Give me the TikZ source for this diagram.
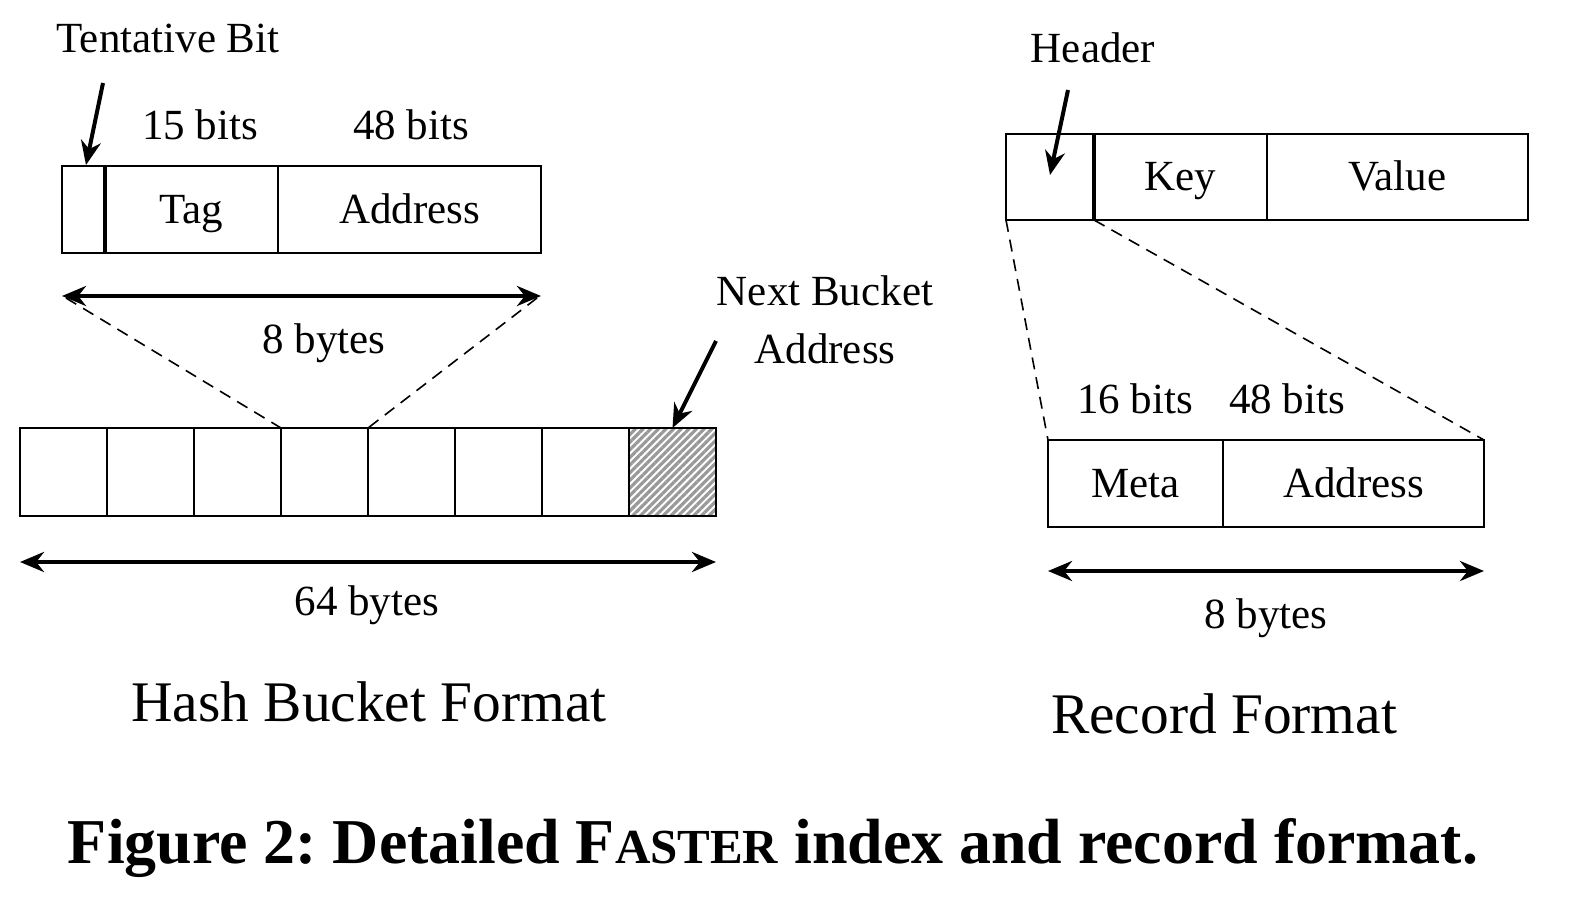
\documentclass[tikz,border=0pt]{standalone}
\usepackage{fontspec}
\setmainfont{Liberation Serif}
\usetikzlibrary{arrows.meta,patterns.meta}
\frenchspacing
\begin{document}
\begin{tikzpicture}[x=0.5pt,y=-0.5pt,
  cell/.style={draw,line width=1pt,rectangle,inner sep=0pt,outer sep=0pt,anchor=north west,text height=16.5pt,text depth=3pt,font=\fontsize{21.5}{24}\selectfont},
  lbl/.style={inner sep=0pt,font=\fontsize{21.5}{24}\selectfont},
  ttl/.style={inner sep=0pt,font=\fontsize{28.7}{32}\selectfont},
  dim/.style={{Stealth[length=12pt,width=10pt]}-{Stealth[length=12pt,width=10pt]},line width=2pt},
  ptr/.style={-{Stealth[length=12pt,width=10pt]},line width=2pt},
  zoom/.style={dashed,line width=0.8pt,dash pattern=on 6pt off 4pt},
  divider/.style={line width=1.8pt},
  hatch/.style={pattern={Lines[angle=45,distance=2.7pt,line width=1.6pt]},pattern color=gray!80}
]
\useasboundingbox (0,0) rectangle (1578,904);

% ---------- Hash bucket entry ----------
\node[cell,minimum width=21.5pt,minimum height=43.5pt] (tb) at (62,166) {};
\node[cell,minimum width=86.5pt,minimum height=43.5pt] (tag) at (105,166) {Tag};
\node[cell,minimum width=131.5pt,minimum height=43.5pt] (addr) at (278,166) {Address};
\draw[divider] (tb.north east) -- (tb.south east);

\node[lbl] (tbl) at (168,38) {Tentative Bit};
\node[lbl] (b15) at (200,125) {15 bits};
\node[lbl] (b48) at (411,125) {48 bits};
\coordinate (tbs) at (103,83);
\coordinate (tbe) at (86,165);
\draw[ptr] (tbs) -- (tbe);

\coordinate (e8l) at (62,296);
\coordinate (e8r) at (541,296);
\draw[dim] (e8l) -- (e8r);
\node[lbl] (by8) at (324,343) {8 bytes};

% ---------- Bucket ----------
\foreach \i in {1,...,7}{
  \node[cell,minimum width=43.5pt,minimum height=44pt] (c\i) at ({20+87*(\i-1)},428) {};
}
\node[cell,minimum width=43.5pt,minimum height=44pt,hatch] (c8) at (629,428) {};

\coordinate (dl) at (66,298);
\coordinate (dr) at (537,298);
\draw[zoom] (dl) -- (c4.north west);
\draw[zoom] (dr) -- (c4.north east);

\node[lbl] (nb1) at (825,291) {Next Bucket};
\node[lbl] (nb2) at (825,349) {Address};
\coordinate (nbs) at (716,341);
\draw[ptr] (nbs) -- (c8.north);

\coordinate (b64l) at (20,562);
\coordinate (b64r) at (716,562);
\draw[dim] (b64l) -- (b64r);
\node[lbl] (by64) at (367,605) {64 bytes};

\node[ttl] (hbf) at (369,702) {Hash Bucket Format};

% ---------- Record ----------
\node[cell,minimum width=44pt,minimum height=43pt] (hdr) at (1006,134) {};
\node[cell,minimum width=86.5pt,minimum height=43pt] (key) at (1094,134) {Key};
\node[cell,minimum width=130.5pt,minimum height=43pt] (val) at (1267,134) {Value};
\draw[divider] (hdr.north east) -- (hdr.south east);

\node[lbl] (hl) at (1093,48) {Header};
\coordinate (hs) at (1068,90);
\coordinate (he) at (1050,175);
\draw[ptr] (hs) -- (he);

\node[cell,minimum width=87.5pt,minimum height=43.5pt] (meta) at (1048,440) {Meta};
\node[cell,minimum width=130.5pt,minimum height=43.5pt] (maddr) at (1223,440) {Address};
\draw[zoom] (hdr.south west) -- (meta.north west);
\draw[zoom] (hdr.south east) -- (maddr.north east);

\node[lbl] (b16) at (1135,399) {16 bits};
\node[lbl] (b48r) at (1287,399) {48 bits};

\coordinate (r8l) at (1048,571);
\coordinate (r8r) at (1484,571);
\draw[dim] (r8l) -- (r8r);
\node[lbl] (rby8) at (1266,618) {8 bytes};

\node[ttl] (rf) at (1224,714) {Record Format};

% ---------- Caption ----------
\node[inner sep=0pt] (cap) at (773,848) {\resizebox{705pt}{!}{\fontsize{30}{34}\selectfont\bfseries Figure 2: Detailed F{\fontsize{23}{26}\selectfont ASTER} index and record format.}};
\end{tikzpicture}
\end{document}
